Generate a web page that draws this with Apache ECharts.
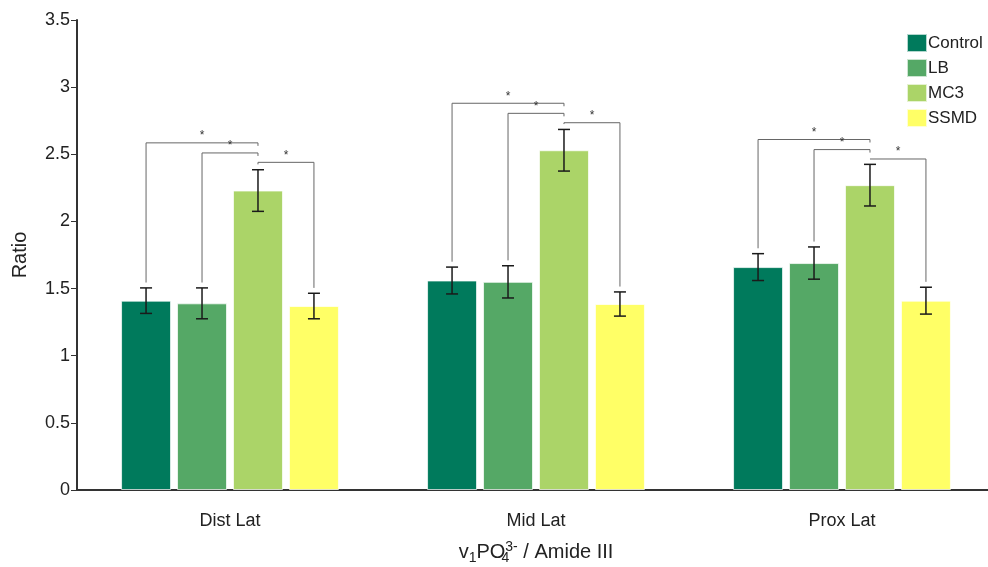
<!DOCTYPE html>
<html>
<head>
<meta charset="utf-8">
<script src="https://cdn.jsdelivr.net/npm/echarts@6/dist/echarts.min.js"></script>
<style>
  html, body { margin: 0; padding: 0; background: #fff; }
  #chart { width: 988px; height: 567px; }
</style>
</head>
<body>
<div id="chart"></div>
<script>
// 数据
const categories = ["Dist Lat", "Mid Lat", "Prox Lat"];
const groupNames = ["Control", "LB", "MC3", "SSMD"];
const groupColors = ["#007A5C", "#55A866", "#ABD468", "#FFFF66"];

const controlMean = [1.41, 1.56, 1.66];
const lbMean = [1.39, 1.55, 1.69];
const mc3Mean = [2.23, 2.53, 2.27];
const ssmdMean = [1.37, 1.385, 1.41];

const controlErr = [0.095, 0.1, 0.1];
const lbErr = [0.115, 0.12, 0.12];
const mc3Err = [0.155, 0.155, 0.155];
const ssmdErr = [0.095, 0.09, 0.1];

// 显著性比较: [组A, 组B]
const sigPairs = [[0, 2], [1, 2], [2, 3]];
// 每个类别的括线高度 (与 sigPairs 对应)
const sigLevels = [
  [2.585, 2.51, 2.44],
  [2.88, 2.805, 2.735],
  [2.61, 2.535, 2.465],
];

const means = [controlMean, lbMean, mc3Mean, ssmdMean];
const errs = [controlErr, lbErr, mc3Err, ssmdErr];

const BAR_GAP = 0.12;
const CAT_GAP = 0.288;

// 组内柱子的水平偏移
function barOffset(api, groupIdx) {
  const band = api.size([1, 0])[0];
  const n = groupNames.length;
  const w = (band * (1 - CAT_GAP)) / (n + (n - 1) * BAR_GAP);
  const total = n * w + (n - 1) * w * BAR_GAP;
  return -total / 2 + groupIdx * w * (1 + BAR_GAP) + w / 2;
}

const barSeries = groupNames.map((name, i) => ({
  name: name,
  type: "bar",
  data: means[i],
  barGap: BAR_GAP * 100 + "%",
  barCategoryGap: CAT_GAP * 100 + "%",
  itemStyle: {
    color: groupColors[i],
    borderColor: "rgba(255,255,255,0.7)",
    borderWidth: 1,
  },
  z: 2,
}));

// 误差线
const errData = [];
groupNames.forEach((_, g) => {
  categories.forEach((_, c) => {
    errData.push([c, means[g][c] - errs[g][c], means[g][c] + errs[g][c], g]);
  });
});

const errorSeries = {
  type: "custom",
  name: "error",
  data: errData,
  z: 5,
  renderItem(params, api) {
    const c = api.value(0);
    const g = api.value(3);
    const off = barOffset(api, g);
    const lo = api.coord([c, api.value(1)]);
    const hi = api.coord([c, api.value(2)]);
    const x = lo[0] + off;
    const cap = 6;
    const style = { stroke: "#1a1a1a", lineWidth: 1.5 };
    return {
      type: "group",
      children: [
        { type: "line", shape: { x1: x, y1: hi[1], x2: x, y2: lo[1] }, style },
        { type: "line", shape: { x1: x - cap, y1: hi[1], x2: x + cap, y2: hi[1] }, style },
        { type: "line", shape: { x1: x - cap, y1: lo[1], x2: x + cap, y2: lo[1] }, style },
      ],
    };
  },
  encode: { x: 0, y: [1, 2] },
  silent: true,
};

// 显著性括线
const sigData = [];
categories.forEach((_, c) => {
  sigPairs.forEach((p, k) => {
    const a = p[0], b = p[1];
    const footA = means[a][c] + errs[a][c] + 0.04;
    const footB = means[b][c] + errs[b][c] + 0.04;
    sigData.push([c, a, b, sigLevels[c][k], footA, footB]);
  });
});

const sigSeries = {
  type: "custom",
  name: "sig",
  data: sigData,
  z: 6,
  renderItem(params, api) {
    const c = api.value(0);
    const a = api.value(1);
    const b = api.value(2);
    const top = api.coord([c, api.value(3)]);
    const fa = api.coord([c, api.value(4)]);
    const fb = api.coord([c, api.value(5)]);
    const xa = top[0] + barOffset(api, a);
    const xb = top[0] + barOffset(api, b);
    // MC3 一侧只画短竖线
    const ya = a === 2 ? Math.min(top[1] + 3, fa[1]) : fa[1];
    const yb = b === 2 ? Math.min(top[1] + 3, fb[1]) : fb[1];
    return {
      type: "group",
      children: [
        {
          type: "polyline",
          shape: { points: [[xa, ya], [xa, top[1]], [xb, top[1]], [xb, yb]] },
          style: { stroke: "#666", lineWidth: 1, fill: null },
        },
        {
          type: "text",
          x: (xa + xb) / 2,
          y: top[1] - 1,
          style: {
            text: "*",
            fill: "#333",
            font: "12px Liberation Sans, Arial",
            align: "center",
            verticalAlign: "bottom",
          },
        },
      ],
    };
  },
  encode: { x: 0, y: 3 },
  silent: true,
};

const chart = echarts.init(document.getElementById("chart"));
chart.setOption({
  animation: false,
  textStyle: { fontFamily: "Liberation Sans, Arial, sans-serif" },
  legend: {
    orient: "vertical",
    left: 906,
    top: 33,
    itemWidth: 20,
    itemHeight: 18,
    itemGap: 5,
    padding: 0,
    data: groupNames,
    textStyle: { fontSize: 17, lineHeight: 18, color: "#222", padding: [0, 0, 0, -4] },
    icon: "rect",
  },
  grid: {
    left: 77,
    top: 20,
    width: 918,
    bottom: 77,
    outerBoundsMode: "none",
    containLabel: false,
  },
  xAxis: {
    type: "category",
    data: categories,
    axisTick: { show: false },
    axisLine: { lineStyle: { color: "#333", width: 2 } },
    axisLabel: { fontSize: 18, color: "#222", margin: 22 },
    name: "v{sub|1}PO{s4|4}{sup|3-} / Amide III",
    nameLocation: "middle",
    nameGap: 49,
    nameTextStyle: {
      fontSize: 20,
      color: "#222",
      rich: {
        sub: { fontSize: 14, padding: [12, 0, 0, 0], color: "#222" },
        s4: { fontSize: 14, padding: [12, 0, 0, 0], width: 0, align: "left", color: "#222" },
        sup: { fontSize: 14, padding: [0, 0, 10, 0], color: "#222" },
      },
    },
  },
  yAxis: {
    type: "value",
    min: 0,
    max: 3.5,
    interval: 0.5,
    splitLine: { show: false },
    axisLine: { show: true, lineStyle: { color: "#333", width: 2 } },
    axisTick: { show: true, length: 6, lineStyle: { color: "#333" } },
    axisLabel: { fontSize: 18, color: "#222", margin: 7 },
    name: "Ratio",
    nameLocation: "middle",
    nameGap: 47,
    nameTextStyle: { fontSize: 20, color: "#222" },
  },
  series: [...barSeries, errorSeries, sigSeries],
});
</script>
</body>
</html>
